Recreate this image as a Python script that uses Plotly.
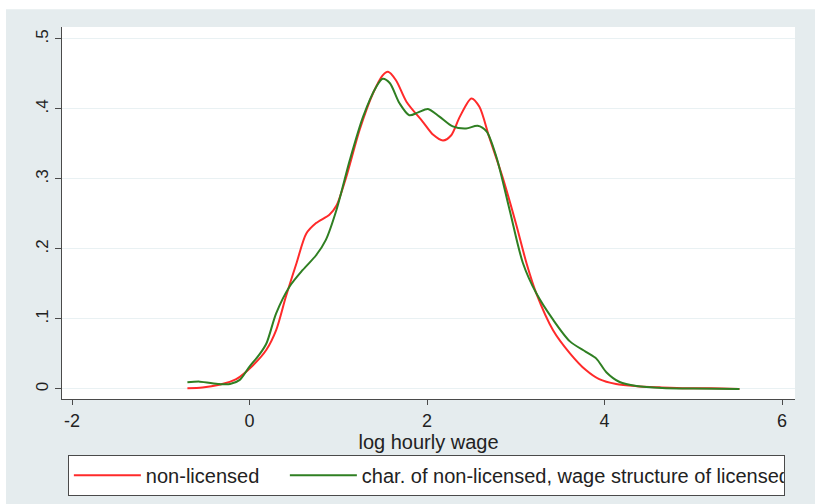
import plotly.graph_objects as go

# Kernel density of log hourly wage: non-licensed workers
red_x = [-0.70, -0.53, -0.34, -0.15, 0.04, 0.19, 0.30, 0.41, 0.53, 0.64, 0.75, 0.90,
         0.98, 1.09, 1.24, 1.39, 1.50, 1.56, 1.65, 1.77, 1.95, 2.07, 2.18, 2.27, 2.37,
         2.50, 2.59, 2.70, 2.85, 3.00, 3.12, 3.23, 3.42, 3.61, 3.79, 3.94, 4.13, 4.36,
         4.62, 4.92, 5.20, 5.52]
red_y = [0.001, 0.002, 0.006, 0.014, 0.034, 0.056, 0.084, 0.132, 0.180, 0.222, 0.237, 0.249,
         0.262, 0.303, 0.370, 0.422, 0.448, 0.453, 0.441, 0.410, 0.382, 0.363, 0.355, 0.362, 0.389,
         0.415, 0.403, 0.360, 0.303, 0.237, 0.180, 0.137, 0.084, 0.051, 0.027, 0.014, 0.007, 0.004,
         0.0024, 0.001, 0.001, 0.0]

# Counterfactual: characteristics of non-licensed, wage structure of licensed
green_x = [-0.70, -0.56, -0.34, -0.22, -0.11, 0.00, 0.11, 0.19, 0.30, 0.45, 0.60, 0.75,
           0.86, 0.98, 1.13, 1.28, 1.43, 1.50, 1.58, 1.69, 1.80, 1.90, 2.01, 2.14, 2.29,
           2.44, 2.57, 2.67, 2.78, 2.93, 3.08, 3.23, 3.42, 3.61, 3.79, 3.91, 4.02, 4.17,
           4.36, 4.65, 5.00, 5.52]
green_y = [0.0095, 0.0105, 0.007, 0.007, 0.013, 0.032, 0.049, 0.065, 0.108, 0.146, 0.170, 0.191,
           0.213, 0.256, 0.327, 0.389, 0.432, 0.443, 0.437, 0.408, 0.391, 0.395, 0.400, 0.389, 0.375,
           0.372, 0.376, 0.368, 0.332, 0.256, 0.180, 0.137, 0.099, 0.068, 0.053, 0.043, 0.024, 0.010,
           0.0043, 0.0014, 0.0006, 0.0]

x_ticks = [-2, 0, 2, 4, 6]
x_tick_text = ["-2", "0", "2", "4", "6"]
y_ticks = [0, 0.1, 0.2, 0.3, 0.4, 0.5]
y_tick_text = ["0", ".1", ".2", ".3", ".4", ".5"]

series_names = ["non-licensed", "char. of non-licensed, wage structure of licensed"]
series_colors = ["#ff2a2a", "#2f7f22"]
legend_entry_widths = [134, 417]

FONT = "Liberation Sans, Arial, sans-serif"
AXIS_COLOR = "#4a4a4a"
OUTER_BG = "#e5ecee"

fig = go.Figure()
for i, (xs, ys) in enumerate([(red_x, red_y), (green_x, green_y)]):
    fig.add_trace(go.Scatter(
        x=xs, y=ys, mode="lines", name=series_names[i],
        line=dict(color=series_colors[i], width=2, shape="spline", smoothing=0.8),
        legendwidth=legend_entry_widths[i],
        hoverinfo="skip",
    ))

# Thin white page margin along the top and left edges
fig.add_shape(type="rect", xref="paper", yref="paper",
              x0=-0.2, x1=1.2, y0=1.048, y1=1.3,
              fillcolor="white", line=dict(width=0), layer="below")
fig.add_shape(type="rect", xref="paper", yref="paper",
              x0=-0.2, x1=-0.0764, y0=-0.4, y1=1.3,
              fillcolor="white", line=dict(width=0), layer="below")

fig.update_layout(
    width=815, height=504,
    margin=dict(l=62, r=20, t=27, b=105, autoexpand=False),
    paper_bgcolor=OUTER_BG,
    plot_bgcolor="white",
    font=dict(family=FONT, size=18, color="#222"),
    showlegend=True,
    legend=dict(
        orientation="h",
        x=0.008, xanchor="left",
        y=-0.15, yanchor="top",
        bgcolor="white",
        bordercolor=AXIS_COLOR, borderwidth=1,
        font=dict(family=FONT, size=20, color="#222"),
        itemwidth=67,
        entrywidthmode="pixels",
        tracegroupgap=0,
    ),
    xaxis=dict(
        range=[-2.113, 6.146],
        tickvals=x_ticks, ticktext=x_tick_text,
        showgrid=False, zeroline=False,
        showline=True, linecolor=AXIS_COLOR, linewidth=1,
        ticks="outside", ticklen=5, tickcolor=AXIS_COLOR,
        tickfont=dict(size=18),
        title=dict(text="log hourly wage", font=dict(size=20), standoff=0),
        automargin=False,
    ),
    yaxis=dict(
        range=[-0.0143, 0.517],
        tickvals=y_ticks, ticktext=y_tick_text,
        tickangle=-90,
        showgrid=True, gridcolor="#e9f1f3", gridwidth=1,
        zeroline=False,
        showline=True, linecolor=AXIS_COLOR, linewidth=1,
        ticks="outside", ticklen=6, tickcolor=AXIS_COLOR,
        tickfont=dict(size=17),
        automargin=False,
    ),
)

fig.write_html("out.html")
